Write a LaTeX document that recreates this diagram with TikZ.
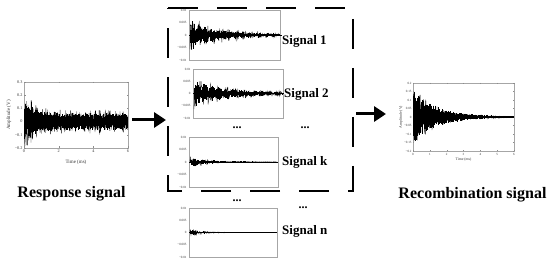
\documentclass[tikz,border=0pt]{standalone}
\usepackage{fontspec}
\setmainfont{Liberation Serif}
\usetikzlibrary{arrows.meta}
% band of vertical noise strokes: #1 x0, #2 x1, #3 y0, #4 N, #5 envelope in px (uses \s in [0,1] and \i)
\newcommand\noiseband[5]{%
  \foreach \i [evaluate=\i as \s using \i/#4,
               evaluate=\i as \xx using #1+(\i/#4)*(#2-#1)] in {0,...,#4}{%
    \pgfmathsetmacro\ee{#5}%
    \draw[band] (\xx,{#3-\ee*(0.3+0.7*rnd)}) -- (\xx,{#3+\ee*(0.3+0.7*rnd)});
  }%
}
\begin{document}
\begin{tikzpicture}[x=1pt,y=-1pt,
  wave/.style={line width=0.3pt, black},
  band/.style={line width=0.7pt, black},
  frame/.style={draw=black!35, line width=0.4pt},
  tickmark/.style={draw=black!45, line width=0.3pt},
  tick/.style={font=\fontsize{4.2}{4.2}\selectfont, inner sep=0.4pt, text=black!80},
  smalltick/.style={font=\fontsize{3.2}{3.2}\selectfont, inner sep=0.3pt, text=black!80},
  axlabel/.style={font=\fontsize{5}{5}\selectfont, inner sep=0pt, text=black!80},
  smallaxlabel/.style={font=\fontsize{3.8}{3.8}\selectfont, inner sep=0pt, text=black!80},
  biglabel/.style={font=\fontsize{16}{18}\selectfont\bfseries, anchor=base, inner sep=0pt},
  siglabel/.style={font=\fontsize{13}{15}\selectfont\bfseries, anchor=base west, inner sep=0pt},
  bigarrow/.style={line width=3pt, -{Triangle[length=12pt,width=15pt]}},
  dotsstyle/.style={font=\fontsize{12}{12}\selectfont\bfseries, anchor=base, inner sep=0pt},
  dashbox/.style={line width=2.6pt, dash pattern=on 30pt off 19pt, line cap=butt},
]
\useasboundingbox (0,0) rectangle (550,262);
\pgfmathsetseed{7}

% ---------- Left plot: response signal ----------
\draw[frame] (24,82) rectangle (128,148);
\foreach \t [count=\k from 0] in {0,2,4,6}{
  \pgfmathsetmacro\xx{24+\k*104/3}
  \draw[tickmark] (\xx,148) -- (\xx,146.5) (\xx,82) -- (\xx,83.5);
  \node[tick,anchor=north] (lx\k) at (\xx,149.5) {\t};
}
\foreach \v [count=\k from 0] in {0.3,0.2,0.1,0,−0.1,−0.2}{
  \pgfmathsetmacro\yy{82+\k*13.2}
  \draw[tickmark] (24,\yy) -- (25.5,\yy) (128,\yy) -- (126.5,\yy);
  \node[tick,anchor=east] (ly\k) at (23,\yy) {\v};
}
\node[axlabel] (ltime) at (76,162) {Time (ms)};
\node[axlabel,rotate=90] (lamp) at (9,115) {Amplitude (V)};
\draw[wave] plot[domain=24.3:127.7,samples=500]
  (\x,{121.6 + (12 + 24*exp(-(\x-24)/8))*(0.6+0.4*abs(sin(\x*37)))*rand});
\noiseband{24.4}{127.6}{121.6}{260}{(9 + 14*exp(-\s*12))*(0.7+0.3*abs(sin(\i*23)))}

\node[biglabel] (resp) at (71.5,198) {Response signal};

% ---------- Arrow 1 ----------
\coordinate (a1s) at (132,120);
\coordinate (a1e) at (166,120);
\draw[bigarrow] (a1s) -- (a1e);

% ---------- Dashed selection box ----------
\coordinate (dbl) at (168,191);
\coordinate (dtl) at (168,8);
\coordinate (dtr) at (353,8);
\coordinate (dbr) at (353,191);
\draw[dashbox] (dtl) -- (dtr) -- (dbr) -- (dbl) -- cycle;

% ---------- Signal 1 ----------
\draw[frame] (189,10) rectangle (280,60);
\foreach \v [count=\k from 0] in {0.01,0.005,0,−0.005,−0.01}
  \node[smalltick,anchor=east] (s1y\k) at (187,{10+\k*12.5}) {\v};
\draw[wave] (189,35) -- (282,35);
\draw[wave] plot[domain=190:279,samples=300]
  (\x,{35 + (1.5 + 18*exp(-(\x-190)/30))*(0.4+0.6*abs(sin(\x*24)))*rand});
\noiseband{190}{279}{35}{200}{(1 + 15*exp(-\s/0.3))*(0.4+0.6*abs(sin(\i*13)))}
\node[siglabel] (sig1) at (282,45) {Signal 1};

% ---------- Signal 2 ----------
\draw[frame] (193,69) rectangle (283,118);
\foreach \v [count=\k from 0] in {0.01,0.005,0,−0.005,−0.01}
  \node[smalltick,anchor=east] (s2y\k) at (191,{69+\k*12.25}) {\v};
\draw[wave] (193,93.5) -- (284,93.5);
\draw[wave] plot[domain=194:282,samples=300]
  (\x,{93.5 + (1.5 + 16*exp(-(\x-194)/32))*(0.4+0.6*abs(sin(\x*21)))*rand});
\noiseband{194}{282}{93.5}{200}{(1 + 13*exp(-\s/0.35))*(0.4+0.6*abs(sin(\i*11)))}
\node[siglabel] (sig2) at (284,98) {Signal 2};

\node[dotsstyle] (d1) at (237,128.5) {...};
\node[dotsstyle] (d2) at (305,128.5) {...};

% ---------- Signal k ----------
\draw[frame] (189,137) rectangle (278,187);
\foreach \v [count=\k from 0] in {0.01,0.005,0,−0.005,−0.01}
  \node[smalltick,anchor=east] (sky\k) at (187,{137+\k*12.5}) {\v};
\draw[wave] (189,162) -- (278,162);
\draw[wave] plot[domain=190:277,samples=260]
  (\x,{162 + (0.3 + 6*exp(-(\x-190)/15))*(0.5+0.5*abs(sin(\x*30)))*rand});
\noiseband{190}{277}{162}{180}{(0.4 + 5*exp(-\s/0.2))*(0.3+0.7*abs(sin(\i*9)))}
\node[siglabel] (sigk) at (282,165) {Signal k};

\node[dotsstyle] (d3) at (237,201.5) {...};
\node[dotsstyle] (d4) at (303,208.5) {...};

% ---------- Signal n ----------
\draw[frame] (189,208) rectangle (277,257);
\foreach \v [count=\k from 0] in {0.01,0.005,0,−0.005,−0.01}
  \node[smalltick,anchor=east] (sny\k) at (187,{208+\k*12.25}) {\v};
\draw[wave] (189,232.5) -- (277,232.5);
\draw[wave] plot[domain=190:276,samples=260]
  (\x,{232.5 + (0.2 + 4*exp(-(\x-190)/12))*(0.5+0.5*abs(sin(\x*30)))*rand});
\noiseband{190}{276}{232.5}{180}{(0.3 + 3*exp(-\s/0.14))*(0.3+0.7*abs(sin(\i*9)))}
\node[siglabel] (sign) at (282,235) {Signal n};

% ---------- Arrow 2 ----------
\coordinate (a2s) at (356,114);
\coordinate (a2e) at (386,114);
\draw[bigarrow] (a2s) -- (a2e);

% ---------- Right plot: recombination signal ----------
\draw[frame] (413,83) rectangle (514,151);
\foreach \t in {0,...,6}{
  \pgfmathsetmacro\xx{413+\t*101/6}
  \draw[tickmark] (\xx,151) -- (\xx,149.8) (\xx,83) -- (\xx,84.2);
  \node[smalltick,anchor=north] (rx\t) at (\xx,152.5) {\t};
}
\foreach \v [count=\k from 0] in {0.2,0.15,0.1,0.05,0,−0.05,−0.1,−0.15,−0.2}{
  \pgfmathsetmacro\yy{83+\k*8.5}
  \draw[tickmark] (413,\yy) -- (414.2,\yy) (514,\yy) -- (512.8,\yy);
  \node[smalltick,anchor=east] (ry\k) at (412,\yy) {\v};
}
\node[smallaxlabel] (rtime) at (463.5,160) {Time (ms)};
\node[smallaxlabel,rotate=90] (ramp) at (401,117) {Amplitude (V)};
\draw[wave] (413,117) -- (514,117);
\draw[wave] plot[domain=413.3:513.7,samples=450]
  (\x,{117 + (0.5 + 34*exp(-(\x-413)/20))*(0.6+0.4*abs(sin(\x*29)))*rand});
\noiseband{413.4}{513.6}{117}{280}{(0.6 + 28*exp(-\s*6/1.4))*(0.75+0.25*abs(sin(\i*17)))}

\node[biglabel] (recomb) at (472.5,199) {Recombination signal};
\end{tikzpicture}
\end{document}
